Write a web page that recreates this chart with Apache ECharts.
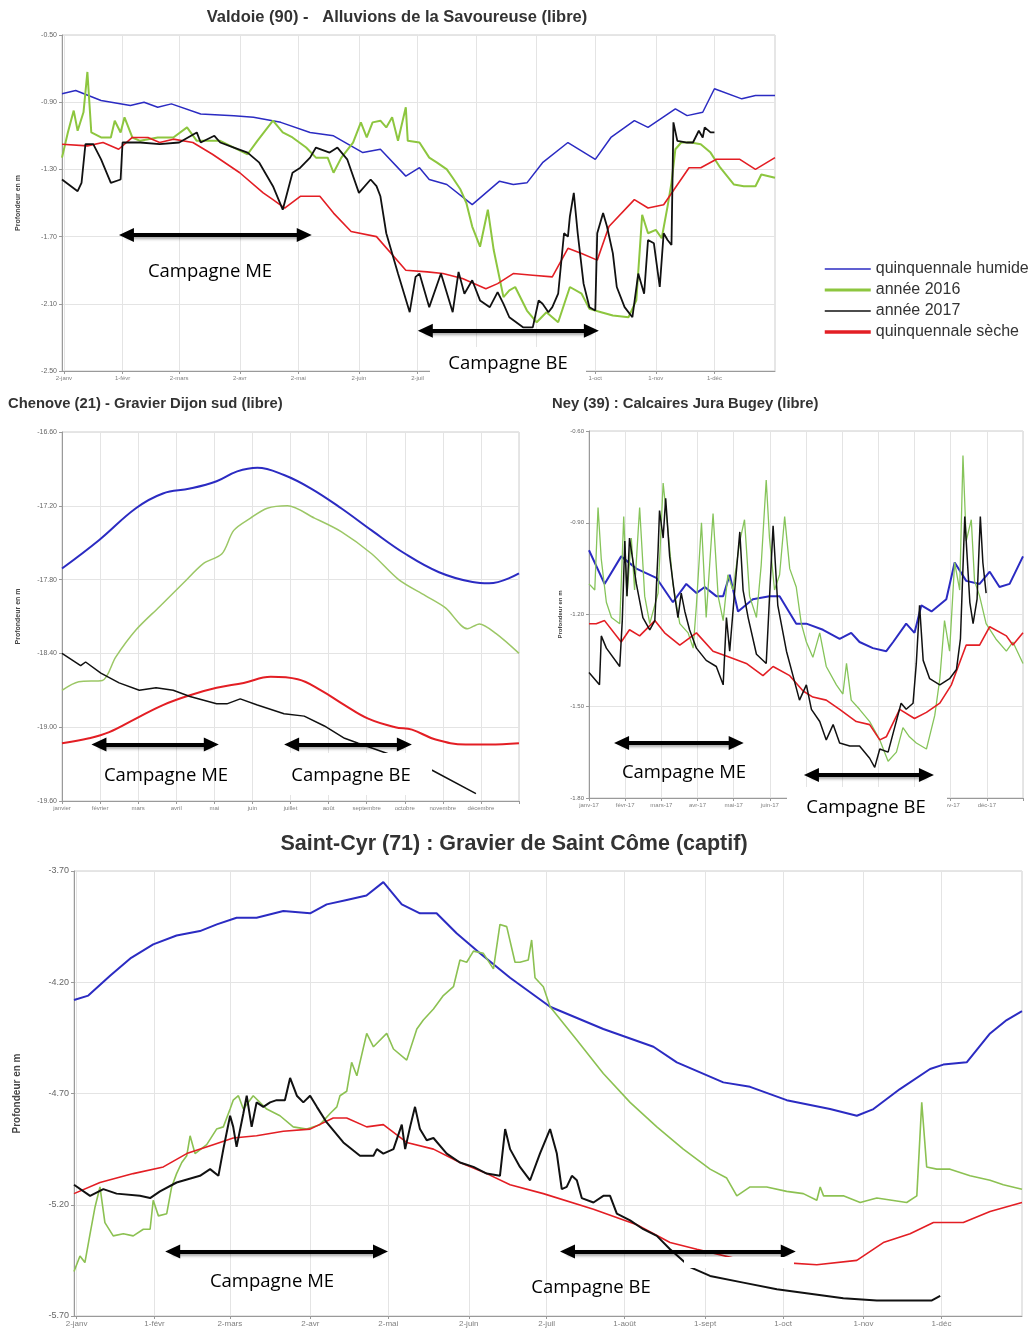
<!DOCTYPE html>
<html>
<head>
<meta charset="utf-8">
<script src="https://cdn.jsdelivr.net/npm/echarts@6/dist/echarts.min.js"></script>
<style>
html,body{margin:0;padding:0;background:#fff;}
#c{width:1034px;height:1332px;}
</style>
</head>
<body>
<div id="c"></div>
<script>
// ---------- tick labels ----------
const monthDays = [1, 31, 60, 91, 121, 152, 182, 212, 243, 273, 304, 334];
const dayLabels = ['2-janv', '1-févr', '2-mars', '2-avr', '2-mai', '2-juin', '2-juil', '1-août', '1-sept', '1-oct', '1-nov', '1-déc'];
const chenoveMonths = ['janvier', 'février', 'mars', 'avril', 'mai', 'juin', 'juillet', 'août', 'septembre', 'octobre', 'novembre', 'décembre'];
const neyMonths = ['janv-17', 'févr-17', 'mars-17', 'avr-17', 'mai-17', 'juin-17', 'juil-17', 'août-17', 'sept-17', 'oct-17', 'nov-17', 'déc-17'];
const seriesNames = ['quinquennale humide', 'année 2016', 'année 2017', 'quinquennale sèche'];

// ---------- Valdoie (x = day of year, y = m) ----------
const valdoieHumide = [[0,-0.85],[7,-0.83],[20,-0.89],[35,-0.92],[42,-0.90],[49,-0.93],[56,-0.91],[71,-0.97],[88,-0.98],[98,-0.99],[112,-1.02],[127,-1.08],[139,-1.10],[154,-1.20],[163,-1.18],[176,-1.34],[183,-1.29],[188,-1.36],[197,-1.39],[210,-1.51],[224,-1.37],[231,-1.39],[238,-1.38],[246,-1.26],[259,-1.14],[273,-1.24],[281,-1.11],[293,-1.01],[300,-1.05],[314,-0.94],[320,-0.98],[328,-0.96],[334,-0.82],[348,-0.88],[355,-0.86],[365,-0.86]];
const valdoie2016 = [[0,-1.23],[3,-1.08],[6,-0.95],[8,-1.07],[11,-0.96],[13,-0.72],[15,-1.08],[20,-1.11],[25,-1.11],[27,-1.01],[30,-1.08],[32,-0.99],[36,-1.11],[40,-1.13],[49,-1.11],[57,-1.11],[64,-1.05],[69,-1.13],[81,-1.13],[88,-1.17],[95,-1.21],[100,-1.13],[108,-1.01],[113,-1.08],[118,-1.11],[125,-1.17],[130,-1.23],[136,-1.23],[139,-1.32],[143,-1.23],[149,-1.14],[153,-1.02],[156,-1.11],[159,-1.02],[163,-1.01],[166,-1.05],[169,-0.99],[172,-1.13],[176,-0.93],[177,-1.13],[183,-1.14],[188,-1.23],[192,-1.26],[197,-1.30],[200,-1.35],[204,-1.42],[207,-1.50],[210,-1.64],[214,-1.76],[218,-1.54],[221,-1.78],[226,-2.06],[229,-2.02],[232,-2.00],[238,-2.14],[243,-2.21],[248,-2.15],[254,-2.21],[260,-2.00],[266,-2.04],[270,-2.13],[276,-2.15],[282,-2.17],[290,-2.18],[294,-2.08],[297,-1.57],[300,-1.68],[304,-1.66],[307,-1.71],[310,-1.52],[312,-1.38],[314,-1.18],[317,-1.14],[322,-1.14],[327,-1.15],[332,-1.20],[337,-1.29],[344,-1.39],[349,-1.40],[355,-1.40],[358,-1.33],[365,-1.35]];
const valdoie2017 = [[0,-1.36],[8,-1.43],[10,-1.38],[12,-1.15],[16,-1.15],[20,-1.24],[25,-1.38],[30,-1.36],[31,-1.14],[35,-1.14],[40,-1.14],[50,-1.15],[60,-1.14],[69,-1.08],[71,-1.14],[78,-1.10],[81,-1.14],[88,-1.17],[95,-1.20],[101,-1.26],[108,-1.40],[113,-1.54],[118,-1.32],[122,-1.29],[127,-1.23],[130,-1.17],[137,-1.20],[141,-1.17],[146,-1.24],[152,-1.44],[158,-1.36],[161,-1.40],[163,-1.46],[166,-1.68],[172,-1.92],[178,-2.15],[181,-1.94],[183,-1.92],[188,-2.12],[194,-1.92],[200,-2.15],[203,-1.91],[206,-2.04],[210,-1.96],[214,-2.08],[219,-2.12],[223,-2.03],[226,-2.10],[229,-2.18],[236,-2.24],[241,-2.24],[244,-2.08],[246,-2.10],[249,-2.15],[251,-2.12],[254,-2.04],[257,-1.68],[259,-1.70],[260,-1.58],[262,-1.44],[264,-1.68],[267,-1.98],[270,-2.12],[273,-2.14],[274,-1.68],[277,-1.56],[279,-1.64],[282,-1.80],[284,-2.00],[288,-2.12],[292,-2.18],[293,-2.18],[295,-1.92],[298,-2.04],[300,-1.72],[303,-1.74],[306,-2.00],[308,-1.68],[310,-1.72],[312,-1.75],[313,-1.02],[315,-1.13],[320,-1.14],[323,-1.14],[326,-1.07],[328,-1.11],[329,-1.05],[332,-1.08],[334,-1.08]];
const valdoieSeche = [[0,-1.15],[13,-1.16],[21,-1.14],[29,-1.18],[36,-1.11],[44,-1.11],[50,-1.14],[57,-1.12],[67,-1.14],[77,-1.21],[91,-1.32],[103,-1.44],[108,-1.48],[114,-1.53],[122,-1.46],[132,-1.46],[139,-1.56],[148,-1.67],[161,-1.70],[176,-1.90],[187,-1.91],[195,-1.92],[205,-1.95],[217,-2.01],[223,-1.98],[231,-1.92],[241,-1.93],[251,-1.94],[259,-1.77],[266,-1.80],[274,-1.84],[280,-1.64],[293,-1.48],[300,-1.53],[308,-1.51],[321,-1.29],[327,-1.29],[335,-1.24],[347,-1.24],[355,-1.30],[365,-1.23]];

// ---------- Chenove (x = month index, y = m) ----------
const chenoveHumide = [[0,-17.71],[0.97,-17.48],[1.94,-17.22],[2.65,-17.10],[3.36,-17.06],[4.06,-17.00],[4.6,-16.92],[5.13,-16.89],[5.83,-16.95],[6.54,-17.06],[7.33,-17.22],[8.13,-17.40],[9.01,-17.59],[9.9,-17.74],[10.78,-17.82],[11.22,-17.83],[12,-17.75]];
const chenove2016 = [[0,-18.70],[0.44,-18.63],[1.06,-18.62],[1.41,-18.43],[1.94,-18.21],[2.56,-18.02],[3.18,-17.83],[3.71,-17.67],[4.2,-17.59],[4.51,-17.40],[4.95,-17.30],[5.39,-17.22],[5.92,-17.20],[6.63,-17.30],[7.33,-17.41],[8.13,-17.59],[8.84,-17.80],[9.54,-17.93],[10.07,-18.03],[10.65,-18.20],[10.96,-18.16],[11.4,-18.24],[12,-18.40]];
const chenove2017 = [[0,-18.40],[0.49,-18.50],[0.62,-18.47],[1.02,-18.56],[1.5,-18.64],[2.03,-18.70],[2.47,-18.68],[2.92,-18.70],[3.36,-18.75],[4.06,-18.81],[4.33,-18.81],[4.68,-18.77],[5.13,-18.82],[5.83,-18.89],[6.36,-18.91],[6.89,-18.99],[7.42,-19.09],[7.78,-19.13],[8.6,-19.22],[9.72,-19.35],[10.87,-19.54]];
const chenoveSeche = [[0,-19.13],[0.71,-19.09],[1.24,-19.04],[1.94,-18.93],[2.65,-18.82],[3.36,-18.74],[4.06,-18.68],[4.77,-18.64],[5.48,-18.59],[6.19,-18.61],[6.8,-18.70],[7.42,-18.82],[8.04,-18.93],[8.75,-19.00],[9.19,-19.02],[9.81,-19.10],[10.6,-19.14],[11.22,-19.14],[12,-19.13]];

// ---------- Ney (x = month index, y = m) ----------
const neyHumide = [[0,-0.99],[0.43,-1.10],[0.89,-1.01],[1.31,-1.05],[1.86,-1.08],[2.32,-1.16],[2.69,-1.10],[2.97,-1.13],[3.2,-1.11],[3.52,-1.14],[3.71,-1.14],[3.89,-1.07],[4.12,-1.19],[4.53,-1.15],[4.99,-1.14],[5.27,-1.14],[5.73,-1.23],[6.01,-1.23],[6.47,-1.25],[6.93,-1.28],[7.25,-1.26],[7.48,-1.29],[7.85,-1.31],[8.22,-1.32],[8.41,-1.29],[8.77,-1.23],[9.0,-1.26],[9.19,-1.17],[9.47,-1.19],[9.88,-1.15],[10.11,-1.03],[10.43,-1.09],[10.8,-1.10],[11.08,-1.06],[11.35,-1.11],[11.63,-1.10],[12,-1.01]];
const ney2016 = [[0,-1.10],[0.16,-1.12],[0.25,-0.85],[0.34,-1.02],[0.48,-1.16],[0.62,-1.21],[0.85,-1.23],[0.96,-0.88],[1.05,-1.14],[1.17,-0.95],[1.26,-1.12],[1.4,-0.85],[1.54,-1.14],[1.68,-1.23],[1.91,-1.13],[2.05,-0.77],[2.18,-0.92],[2.32,-1.10],[2.51,-1.23],[2.74,-1.26],[2.88,-1.31],[2.97,-1.17],[3.11,-0.90],[3.24,-1.21],[3.43,-0.87],[3.57,-1.14],[3.71,-1.22],[3.84,-1.07],[3.98,-1.12],[4.17,-0.96],[4.3,-0.89],[4.44,-1.14],[4.63,-1.21],[4.76,-1.04],[4.9,-0.76],[4.99,-0.95],[5.13,-1.12],[5.27,-1.07],[5.41,-0.88],[5.55,-1.05],[5.73,-1.11],[5.87,-1.23],[6.01,-1.29],[6.19,-1.34],[6.38,-1.26],[6.56,-1.37],[6.84,-1.43],[7.02,-1.46],[7.12,-1.36],[7.25,-1.48],[7.48,-1.51],[7.76,-1.55],[8.04,-1.61],[8.27,-1.68],[8.5,-1.65],[8.68,-1.57],[8.86,-1.60],[9.05,-1.62],[9.33,-1.64],[9.56,-1.53],[9.7,-1.41],[9.83,-1.22],[9.97,-1.32],[10.11,-1.03],[10.25,-1.12],[10.34,-0.68],[10.43,-0.96],[10.57,-0.89],[10.66,-1.09],[10.8,-1.14],[10.98,-1.23],[11.25,-1.28],[11.54,-1.32],[11.72,-1.29],[12,-1.36]];
const ney2017 = [[0,-1.39],[0.29,-1.43],[0.34,-1.27],[0.48,-1.31],[0.85,-1.37],[0.92,-1.22],[0.99,-0.96],[1.05,-1.14],[1.12,-0.95],[1.31,-1.10],[1.49,-1.21],[1.68,-1.25],[1.82,-1.22],[1.91,-0.99],[1.95,-0.86],[2.05,-0.95],[2.12,-0.82],[2.23,-1.01],[2.37,-1.14],[2.46,-1.21],[2.55,-1.13],[2.65,-1.19],[2.78,-1.25],[2.97,-1.31],[3.24,-1.35],[3.52,-1.37],[3.71,-1.43],[3.8,-1.21],[3.89,-1.32],[4.03,-1.12],[4.17,-0.93],[4.26,-1.12],[4.4,-1.21],[4.63,-1.33],[4.9,-1.36],[5.09,-0.91],[5.22,-1.17],[5.46,-1.32],[5.64,-1.40],[5.82,-1.48],[6.01,-1.43],[6.15,-1.51],[6.38,-1.55],[6.56,-1.61],[6.75,-1.56],[6.93,-1.62],[7.21,-1.63],[7.48,-1.63],[7.76,-1.67],[7.9,-1.70],[8.04,-1.64],[8.27,-1.65],[8.45,-1.57],[8.63,-1.49],[8.77,-1.51],[8.96,-1.49],[9.05,-1.36],[9.14,-1.17],[9.24,-1.35],[9.42,-1.41],[9.7,-1.43],[9.97,-1.41],[10.16,-1.38],[10.27,-1.28],[10.39,-0.88],[10.53,-1.16],[10.62,-1.23],[10.73,-1.15],[10.82,-0.88],[10.89,-1.03],[10.98,-1.13]];
const neySeche = [[0,-1.23],[0.2,-1.23],[0.43,-1.22],[0.89,-1.29],[1.12,-1.25],[1.4,-1.27],[1.82,-1.22],[2.09,-1.26],[2.51,-1.30],[2.97,-1.26],[3.43,-1.32],[3.89,-1.34],[4.35,-1.36],[4.81,-1.40],[5.09,-1.37],[5.55,-1.40],[5.92,-1.45],[6.19,-1.47],[6.56,-1.48],[6.93,-1.51],[7.39,-1.55],[7.76,-1.56],[8.04,-1.61],[8.22,-1.60],[8.59,-1.51],[9.0,-1.54],[9.33,-1.52],[9.7,-1.49],[10.02,-1.43],[10.43,-1.30],[10.8,-1.30],[11.08,-1.24],[11.54,-1.27],[11.72,-1.30],[12,-1.26]];

// ---------- Saint-Cyr (x = day of year, y = m) ----------
const stcyrHumide = [[0,-4.28],[5.5,-4.26],[14,-4.17],[22,-4.09],[30.5,-4.03],[39.5,-3.99],[48.5,-3.97],[55,-3.94],[62.6,-3.91],[70.3,-3.91],[80.6,-3.88],[90.9,-3.89],[97.3,-3.85],[105,-3.83],[112.6,-3.81],[119.1,-3.75],[126.2,-3.85],[133.2,-3.89],[139.6,-3.89],[147.3,-3.98],[156.3,-4.07],[167.9,-4.18],[183.3,-4.31],[203.8,-4.41],[223.1,-4.49],[232.1,-4.56],[250,-4.65],[260.3,-4.67],[274.4,-4.73],[291.1,-4.77],[301.4,-4.80],[307.8,-4.77],[318,-4.68],[329.6,-4.59],[334.7,-4.57],[343.7,-4.56],[352.7,-4.43],[359.1,-4.37],[365,-4.33]];
const stcyr2016 = [[0,-5.50],[2.3,-5.43],[4.2,-5.46],[6.2,-5.33],[8.1,-5.21],[10,-5.12],[11.9,-5.28],[15.1,-5.34],[19,-5.33],[22.8,-5.34],[26.7,-5.31],[29.3,-5.31],[30.5,-5.18],[32.5,-5.25],[35.7,-5.24],[37.6,-5.12],[39.5,-5.06],[41.5,-5.01],[43.4,-4.98],[44.7,-4.89],[46.6,-4.97],[51.1,-4.93],[54.9,-4.86],[57.5,-4.85],[60.1,-4.77],[61.3,-4.73],[63.3,-4.71],[65.2,-4.77],[69,-4.71],[74.2,-4.77],[79.3,-4.80],[84.4,-4.85],[89.6,-4.86],[94.7,-4.84],[98.6,-4.79],[101.2,-4.76],[102.4,-4.71],[105,-4.69],[106.9,-4.56],[108.9,-4.62],[112.7,-4.43],[115.3,-4.49],[120.4,-4.43],[123,-4.50],[128.1,-4.55],[132,-4.41],[134.5,-4.37],[138.4,-4.32],[142.2,-4.26],[146.1,-4.22],[148.6,-4.10],[151.2,-4.11],[153.8,-4.06],[157.6,-4.07],[161.5,-4.14],[164,-3.94],[166.6,-3.95],[169.8,-4.11],[171.7,-4.11],[174.9,-4.10],[176.2,-4.01],[177.5,-4.18],[180.7,-4.22],[183.3,-4.31],[193.6,-4.46],[203.8,-4.61],[214.1,-4.74],[224.4,-4.85],[234.6,-4.95],[244.9,-5.04],[251.3,-5.08],[255.2,-5.16],[260.3,-5.12],[266.7,-5.12],[274.4,-5.14],[280.8,-5.15],[286,-5.18],[287.3,-5.12],[288.6,-5.16],[296.2,-5.16],[302.7,-5.19],[309.1,-5.17],[320.6,-5.19],[324.5,-5.16],[326.4,-4.74],[328.3,-5.03],[332.2,-5.04],[337.3,-5.04],[345,-5.07],[352.7,-5.09],[357.8,-5.11],[365,-5.13]];
const stcyr2017 = [[0,-5.11],[6.2,-5.16],[11.3,-5.13],[16.4,-5.15],[25.4,-5.16],[29.3,-5.17],[33.1,-5.14],[39.5,-5.10],[48.5,-5.07],[52.4,-5.04],[55.6,-5.07],[57.5,-4.95],[60.1,-4.80],[61.3,-4.85],[62.6,-4.94],[65.2,-4.79],[66.5,-4.71],[68.4,-4.85],[70.3,-4.74],[72.9,-4.76],[75.5,-4.74],[78,-4.73],[81.2,-4.73],[83.2,-4.63],[85.8,-4.71],[88.3,-4.74],[90.9,-4.71],[93.5,-4.76],[97.3,-4.83],[103.7,-4.92],[110.1,-4.98],[115.3,-4.98],[116.6,-4.95],[119.1,-4.97],[123,-4.95],[126.2,-4.84],[127.5,-4.95],[129.4,-4.85],[131.3,-4.76],[133.2,-4.86],[135.8,-4.91],[138.4,-4.90],[143.5,-4.97],[148.6,-5.01],[153.8,-5.03],[158.9,-5.06],[164,-5.07],[166,-4.86],[167.9,-4.95],[171.7,-5.03],[175.6,-5.09],[179.4,-4.97],[183.3,-4.86],[185.9,-4.97],[187.8,-5.13],[189.7,-5.12],[191.7,-5.07],[193.6,-5.09],[195.5,-5.17],[200,-5.19],[203.8,-5.16],[206.4,-5.16],[209,-5.24],[214.1,-5.27],[219.2,-5.31],[224.4,-5.34],[229.5,-5.40],[237.2,-5.48],[244.9,-5.52],[257.7,-5.55],[270.6,-5.58],[283.4,-5.60],[296.2,-5.62],[309.1,-5.63],[321.9,-5.63],[330.3,-5.63],[333.5,-5.61]];
const stcyrSeche = [[0,-5.15],[10,-5.10],[22.8,-5.06],[34.4,-5.03],[43.4,-4.97],[53.6,-4.93],[61.3,-4.90],[70.3,-4.89],[80.6,-4.87],[90.9,-4.86],[99.8,-4.81],[105,-4.81],[112.7,-4.85],[119.1,-4.84],[128.1,-4.92],[138.4,-4.95],[148.6,-5.01],[158.9,-5.06],[167.9,-5.11],[180.7,-5.15],[200,-5.22],[216.7,-5.29],[229.5,-5.37],[239.8,-5.40],[257.7,-5.45],[273.1,-5.46],[286,-5.47],[301.4,-5.45],[311.6,-5.37],[321.9,-5.33],[330.9,-5.28],[342.4,-5.28],[352.7,-5.23],[365,-5.19]];

// ---------- campaign arrows: [start, end, level] in data units ----------
const campaignsValdoie = [[33, 124, -1.69], [186, 271, -2.26]];
const campaignsChenove = [[0.97, 3.92, -19.14], [6.03, 8.99, -19.14]];
const campaignsNey = [[0.9, 4.07, -1.62], [6.15, 9.33, -1.725]];
const campaignsStCyr = [[38, 118, -5.41], [190, 275, -5.41]];

// ---------- build ----------
const chart = echarts.init(document.getElementById('c'), null, {renderer: 'canvas'});
const FONT = 'Liberation Sans';
const COLORS = {blue: '#2b2bc2', green: '#8dc63f', black: '#111111', red: '#e31e24'};

function fmt2(v) { return (Math.round(v * 100) / 100).toFixed(2); }

function gridLinesML(days) {
  return {
    silent: true, symbol: 'none', z: 1, animation: false,
    label: {show: false}, emphasis: {disabled: true},
    lineStyle: {color: '#e4e4e4', width: 1, type: 'solid'},
    data: days.map(d => ({xAxis: d}))
  };
}
function arrowsML(camps) {
  return {
    silent: true, symbol: ['triangle', 'triangle'], symbolSize: [14, 15], z: 10, animation: false,
    label: {show: false}, emphasis: {disabled: true},
    itemStyle: {color: '#000'},
    lineStyle: {color: '#000', width: 4, type: 'solid', shadowBlur: 3, shadowColor: 'rgba(0,0,0,0.35)', shadowOffsetY: 2},
    data: camps.map(c => [{coord: [c[0], c[2]]}, {coord: [c[1], c[2]]}])
  };
}
function line(name, data, gi, color, width, extra) {
  return Object.assign({
    type: 'line', name: name, data: data, xAxisIndex: gi, yAxisIndex: gi,
    symbol: 'none', showSymbol: false, animation: false, silent: true,
    lineStyle: {color: color, width: width}, itemStyle: {color: color}
  }, extra || {});
}

const grids = [
  {left: 62, top: 35, width: 713, height: 336},
  {left: 62, top: 432, width: 457, height: 369},
  {left: 589, top: 431, width: 434, height: 367},
  {left: 74, top: 871, width: 948, height: 445}
].map(g => Object.assign({show: true, borderColor: '#cdcdcd', borderWidth: 1, containLabel: false}, g));

const axisLineStyle = {show: true, lineStyle: {color: '#9a9a9a', width: 1}};
function dayAxis(gi, fs) {
  return {
    type: 'value', gridIndex: gi, min: 0, max: 365,
    axisLine: axisLineStyle,
    axisTick: {show: true, customValues: monthDays, length: 3, lineStyle: {color: '#9a9a9a'}},
    splitLine: {show: false},
    axisLabel: {customValues: monthDays, fontSize: fs, color: '#808080', fontFamily: FONT, margin: 4,
      formatter: v => { const i = monthDays.indexOf(v); return i >= 0 ? dayLabels[i] : ''; }}
  };
}
function monthAxis(gi, labels, fs) {
  return {
    type: 'value', gridIndex: gi, min: 0, max: 12, interval: 1,
    axisLine: axisLineStyle,
    axisTick: {show: true, length: 3, lineStyle: {color: '#9a9a9a'}},
    splitLine: {show: true, lineStyle: {color: '#e4e4e4'}},
    axisLabel: {fontSize: fs, color: '#808080', fontFamily: FONT, margin: 4,
      formatter: v => labels[Math.round(v)] !== undefined && v < 12 ? labels[Math.round(v)] : ''}
  };
}
function yAxis(gi, min, max, interval, fs, nameGap, nameFs) {
  return {
    type: 'value', gridIndex: gi, min: min, max: max, interval: interval,
    name: 'Profondeur en m', nameLocation: 'middle', nameGap: nameGap,
    nameTextStyle: {fontSize: nameFs, fontWeight: 'bold', color: '#444', fontFamily: FONT},
    axisLine: axisLineStyle,
    axisTick: {show: true, length: 3, lineStyle: {color: '#9a9a9a'}},
    splitLine: {show: true, lineStyle: {color: '#e4e4e4'}},
    axisLabel: {fontSize: fs, color: '#666', fontFamily: FONT, margin: 5, formatter: fmt2}
  };
}

const series = [
  // Valdoie
  line(seriesNames[0], valdoieHumide, 0, COLORS.blue, 1.5, {markLine: gridLinesML(monthDays)}),
  line(seriesNames[1], valdoie2016, 0, COLORS.green, 2),
  line(seriesNames[3], valdoieSeche, 0, COLORS.red, 1.6),
  line(seriesNames[2], valdoie2017, 0, COLORS.black, 1.8, {markLine: arrowsML(campaignsValdoie)}),
  // Chenove
  line(seriesNames[0], chenoveHumide, 1, COLORS.blue, 2, {smooth: 0.4}),
  line(seriesNames[1], chenove2016, 1, '#9cc766', 1.5, {smooth: 0.3}),
  line(seriesNames[3], chenoveSeche, 1, COLORS.red, 2, {smooth: 0.4}),
  line(seriesNames[2], chenove2017, 1, COLORS.black, 1.5, {markLine: arrowsML(campaignsChenove)}),
  // Ney
  line(seriesNames[0], neyHumide, 2, COLORS.blue, 2),
  line(seriesNames[1], ney2016, 2, '#86c45a', 1.3),
  line(seriesNames[3], neySeche, 2, COLORS.red, 1.6),
  line(seriesNames[2], ney2017, 2, COLORS.black, 1.5, {markLine: arrowsML(campaignsNey)}),
  // Saint-Cyr
  line(seriesNames[0], stcyrHumide, 3, COLORS.blue, 2, {markLine: gridLinesML(monthDays)}),
  line(seriesNames[1], stcyr2016, 3, '#8cc152', 1.6),
  line(seriesNames[3], stcyrSeche, 3, COLORS.red, 1.6),
  line(seriesNames[2], stcyr2017, 3, COLORS.black, 2, {markLine: arrowsML(campaignsStCyr)})
];

function txt(text, x, y, fs, opts) {
  return {type: 'text', x: x, y: y, z: 120, silent: true,
    style: Object.assign({text: text, fontSize: fs, fontFamily: FONT, fill: '#333', align: 'center', verticalAlign: 'middle'}, opts || {})};
}
function box(x, y, w, h) {
  return {type: 'rect', z: 110, silent: true, shape: {x: x, y: y, width: w, height: h}, style: {fill: '#fff'}};
}
const CAMP = {fontFamily: 'Open Sans', fill: '#000'};

const graphic = [
  txt('Valdoie (90) -   Alluvions de la Savoureuse (libre)', 397, 17, 16.5, {fontWeight: 'bold'}),
  txt('Chenove (21) - Gravier Dijon sud (libre)', 8, 404, 14.8, {fontWeight: 'bold', align: 'left'}),
  txt('Ney (39) : Calcaires Jura Bugey (libre)', 552, 404, 14.8, {fontWeight: 'bold', align: 'left'}),
  txt('Saint-Cyr (71) : Gravier de Saint Côme (captif)', 514, 844, 21.5, {fontWeight: 'bold'}),
  box(430, 347, 156, 42),
  box(286, 753, 146, 42),
  box(787, 787, 160, 42),
  box(684, 1257, 110, 11),
  txt('Campagne ME', 210, 272, 18.5, CAMP),
  txt('Campagne BE', 508, 364, 18.5, CAMP),
  txt('Campagne ME', 166, 776, 18.5, CAMP),
  txt('Campagne BE', 351, 776, 18.5, CAMP),
  txt('Campagne ME', 684, 773, 18.5, CAMP),
  txt('Campagne BE', 866, 808, 18.5, CAMP),
  txt('Campagne ME', 272, 1282, 18.5, CAMP),
  txt('Campagne BE', 591, 1288, 18.5, CAMP)
];

chart.setOption({
  backgroundColor: '#fff',
  animation: false,
  grid: grids,
  xAxis: [dayAxis(0, 6), monthAxis(1, chenoveMonths, 6), monthAxis(2, neyMonths, 6), dayAxis(3, 8)],
  yAxis: [
    yAxis(0, -2.5, -0.5, 0.4, 7, 40, 7),
    yAxis(1, -19.6, -16.6, 0.6, 7, 40, 7),
    yAxis(2, -1.8, -0.6, 0.3, 6, 26, 6),
    yAxis(3, -5.7, -3.7, 0.5, 9, 52, 10)
  ],
  legend: {
    orient: 'vertical', left: 818, top: 256, itemWidth: 46, itemHeight: 14, itemGap: 5,
    selectedMode: false,
    itemStyle: {opacity: 0},
    textStyle: {fontSize: 16, fontFamily: FONT, color: '#333'},
    data: [
      {name: seriesNames[0], lineStyle: {width: 1.3}, itemStyle: {opacity: 0}},
      {name: seriesNames[1], lineStyle: {width: 3}, itemStyle: {opacity: 0}},
      {name: seriesNames[2], lineStyle: {width: 1.5}, itemStyle: {opacity: 0}},
      {name: seriesNames[3], lineStyle: {width: 3.5}, itemStyle: {opacity: 0}}
    ]
  },
  graphic: graphic,
  series: series
});
</script>
</body>
</html>
